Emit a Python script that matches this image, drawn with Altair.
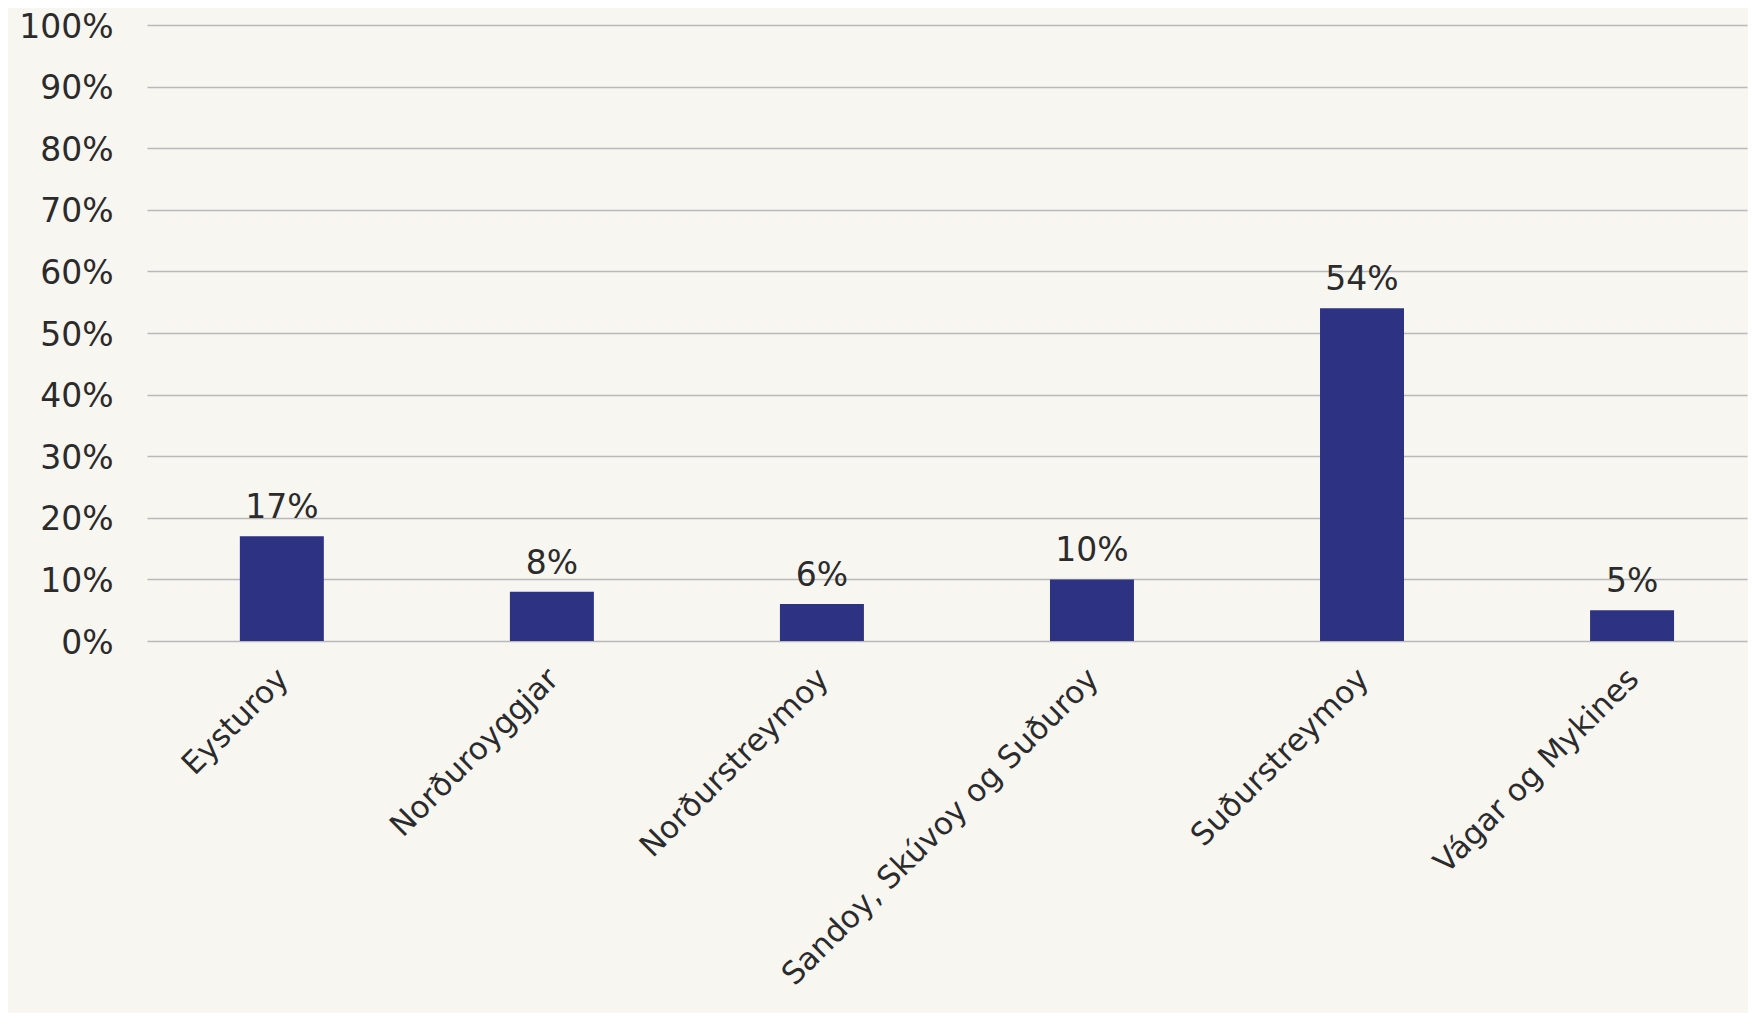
import altair as alt
import pandas as pd

regions = ["Eysturoy", "Norðuroyggjar", "Norðurstreymoy",
           "Sandoy, Skúvoy og Suðuroy", "Suðurstreymoy", "Vágar og Mykines"]
shares = [17, 8, 6, 10, 54, 5]
y_ticks = [0, 10, 20, 30, 40, 50, 60, 70, 80, 90, 100]

df = pd.DataFrame({"region": regions, "share": shares})
df["label"] = df["share"].astype(str) + "%"

FONT = "DejaVu Sans"
TEXT = "#2b2b2b"

x = alt.X("region:N", sort=None, title=None,
          scale=alt.Scale(paddingInner=0.689, paddingOuter=0.307, align=0.56),
          axis=alt.Axis(labelAngle=-45, labelAlign="right", labelBaseline="middle",
                        labelPadding=33, labelOffset=2, ticks=False, tickSize=0,
                        domain=False, grid=False, labelFontSize=31,
                        labelFont=FONT, labelColor=TEXT, labelLimit=1000))
y = alt.Y("share:Q", title=None,
          scale=alt.Scale(domain=[0, 100], nice=False),
          axis=alt.Axis(values=y_ticks, labelExpr="datum.value + '%'",
                        ticks=False, tickSize=0, domain=False, grid=True,
                        gridColor="#b9b9b9", gridWidth=1.3,
                        labelPadding=34, labelOffset=2, labelFontSize=33,
                        labelFont=FONT, labelColor=TEXT, labelBaseline="middle"))

bars = alt.Chart(df).mark_bar(color="#2e3282").encode(x=x, y=y)
labels = alt.Chart(df).mark_text(font=FONT, fontSize=33, color=TEXT,
                                 baseline="alphabetic", dy=-18).encode(
    x=alt.X("region:N", sort=None), y="share:Q", text="label:N")

chart = (bars + labels).properties(
    width=1600, height=616,
    autosize=alt.AutoSizeParams(type="none"),
    padding={"left": 139, "top": 17, "right": 1, "bottom": 372},
    background="#f7f6f1",
).configure_view(stroke=None)

chart.save("out.html", embed_options={"renderer": "svg", "actions": False})
